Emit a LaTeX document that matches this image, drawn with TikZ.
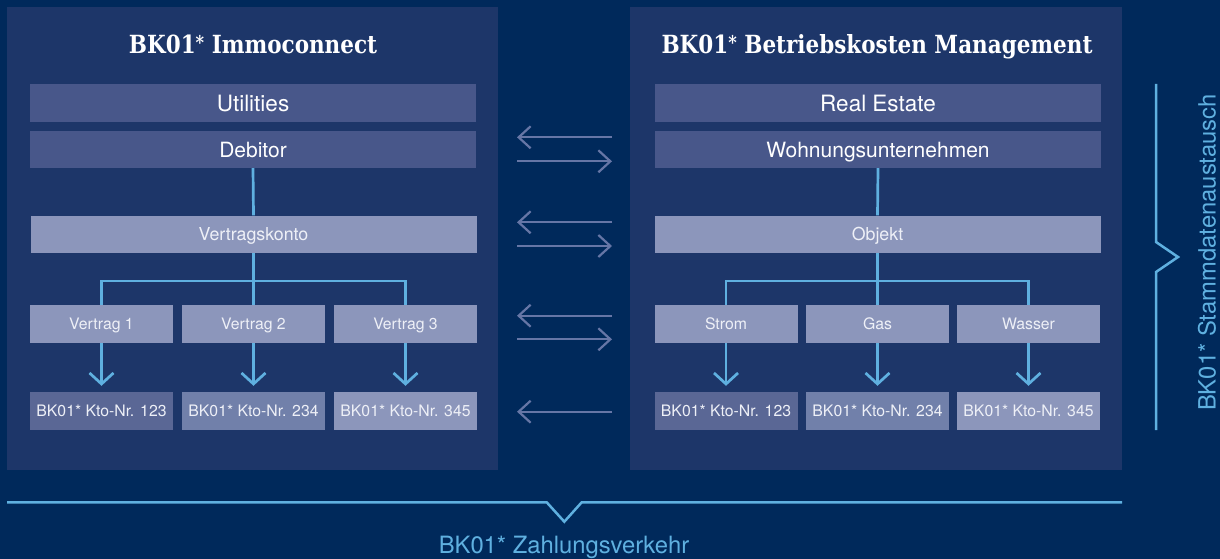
\documentclass[tikz,border=0pt]{standalone}
\usepackage{fontspec}
\usetikzlibrary{arrows.meta}
\newfontfamily\hel{TeX Gyre Heros}
\newfontfamily\slab{DejaVu Serif}[FakeStretch=0.86]
\newcommand{\tast}{{\fontsize{19}{19}\selectfont\raisebox{4.5pt}{*}}}
\definecolor{bgc}{HTML}{00295B}
\definecolor{panelc}{HTML}{1D3669}
\definecolor{darkbox}{HTML}{48578A}
\definecolor{lightbox}{HTML}{8C96BB}
\definecolor{kto1}{HTML}{5A6795}
\definecolor{kto2}{HTML}{7180AA}
\definecolor{linec}{HTML}{5FB0E0}
\definecolor{midc}{HTML}{6676A6}
\definecolor{boxtext}{HTML}{EEF0F7}
\tikzset{
  panel/.style={fill=panelc, draw=none, inner sep=0pt, minimum width=#1, minimum height=463pt},
  title/.style={text=white, font=\slab\bfseries\fontsize{25}{25}\selectfont, inner sep=0pt, text height=18.2pt, text depth=0pt},
  topbox/.style={text height=16.2pt, text depth=0pt, fill=darkbox, inner sep=0pt, minimum width=446pt, minimum height=38pt, text=white, font=\hel\fontsize{22.5}{22.5}\selectfont},
  subbox/.style={text height=15.1pt, text depth=0pt, fill=darkbox, inner sep=0pt, minimum width=446pt, minimum height=37pt, text=white, font=\hel\fontsize{21}{21}\selectfont},
  midbox/.style={text height=12.8pt, text depth=0pt, fill=lightbox, inner sep=0pt, minimum width=446pt, minimum height=37pt, text=boxtext, font=\hel\fontsize{17.8}{17.8}\selectfont},
  smallbox/.style={text height=11.3pt, text depth=0pt, fill=#1, inner sep=0pt, minimum width=143pt, minimum height=38pt, text=boxtext, font=\hel\fontsize{15.8}{15.8}\selectfont},
  tree/.style={draw=linec, line width=2.7pt},
  treearrow/.style={tree, -{Straight Barb[length=11pt, width=24pt]}, shorten >=6pt},
  midarrow/.style={draw=midc, line width=2.2pt, -{Straight Barb[length=12pt, width=22pt]}},
  bracket/.style={draw=linec, line width=2.5pt},
  bracketlabel/.style={text=linec, font=\hel\fontsize{23.8}{23.8}\selectfont, inner sep=0pt}
}
\begin{document}
\begin{tikzpicture}[x=1pt, y=-1pt]
\useasboundingbox[fill=bgc] (0,0) rectangle (1220,559);

% panels
\node[panel=491pt, anchor=north west] (lp) at (7,7) {};
\node[panel=492pt, anchor=north west] (rp) at (630,7) {};

% titles
\node[title] (lt) at (253,44.5) {BK01\tast{} Immoconnect};
\node[title] (rt) at (877,44.5) {BK01\tast{} Betriebskosten Management};

% left boxes
\node[topbox] (util) at (253,103) {Utilities};
\node[subbox] (deb) at (253,149.5) {Debitor};
\node[midbox] (vk) at (253.5,234) {Vertragskonto};
\node[smallbox=lightbox] (v1) at (101.5,324) {Vertrag 1};
\node[smallbox=lightbox] (v2) at (253.5,324) {Vertrag 2};
\node[smallbox=lightbox] (v3) at (405.5,324) {Vertrag 3};
\node[smallbox=kto1] (k1) at (101.5,411) {BK01* Kto-Nr. 123};
\node[smallbox=kto2] (k2) at (253.5,411) {BK01* Kto-Nr. 234};
\node[smallbox=lightbox] (k3) at (405.5,411) {BK01* Kto-Nr. 345};

% right boxes
\node[topbox] (re) at (878,103) {Real Estate};
\node[subbox] (wu) at (878,149.5) {Wohnungsunternehmen};
\node[midbox] (obj) at (877.5,234) {Objekt};
\node[smallbox=lightbox] (s1) at (726,324) {Strom};
\node[smallbox=lightbox] (s2) at (877.5,324) {Gas};
\node[smallbox=lightbox] (s3) at (1028.5,324) {Wasser};
\node[smallbox=kto1] (r1) at (726,411) {BK01* Kto-Nr. 123};
\node[smallbox=kto2] (r2) at (877.5,411) {BK01* Kto-Nr. 234};
\node[smallbox=lightbox] (r3) at (1028.5,411) {BK01* Kto-Nr. 345};

% left tree
\coordinate (jl) at (253.5,281);
\draw[tree] (deb.south) -- (vk.north);
\draw[tree] (vk.south) -- (jl);
\draw[tree] (v1.north) |- (jl) -| (v3.north);
\draw[tree] (jl) -- (v2.north);
\draw[treearrow] (v1.south) -- (k1.north);
\draw[treearrow] (v2.south) -- (k2.north);
\draw[treearrow] (v3.south) -- (k3.north);

% right tree
\coordinate (jr) at (877.5,281);
\draw[tree] (wu.south) -- (obj.north);
\draw[tree] (obj.south) -- (jr);
\draw[tree] (s1.north) |- (jr) -| (s3.north);
\draw[tree] (jr) -- (s2.north);
\draw[treearrow] (s1.south) -- (r1.north);
\draw[treearrow] (s2.south) -- (r2.north);
\draw[treearrow] (s3.south) -- (r3.north);

% middle arrows
\foreach \n/\y in {a/137.3, b/222.3, c/315.7, d/411.7}{
  \coordinate (L\n) at (517,\y);
  \coordinate (R\n) at (612,\y);
}
\foreach \n/\y in {a/161.3, b/246, c/339.3}{
  \coordinate (LL\n) at (517,\y);
  \coordinate (RR\n) at (612,\y);
}
\draw[midarrow] (Ra) -- (La);
\draw[midarrow] (LLa) -- (RRa);
\draw[midarrow] (Rb) -- (Lb);
\draw[midarrow] (LLb) -- (RRb);
\draw[midarrow] (Rc) -- (Lc);
\draw[midarrow] (LLc) -- (RRc);
\draw[midarrow] (Rd) -- (Ld);

% right bracket
\coordinate (rbt) at (1156,84);
\coordinate (rbb) at (1156,430);
\coordinate (rbap) at (1178,257);
\draw[bracket] (rbt) -- (1156,242) -- (rbap) -- (1156,272) -- (rbb);
\node[bracketlabel, rotate=90] (stamm) at (1207,252.5) {BK01* Stammdatenaustausch};

% bottom bracket
\coordinate (bbl) at (7,502.3);
\coordinate (bbr) at (1122,502.3);
\coordinate (bbap) at (564.3,521.7);
\draw[bracket] (bbl) -- (546.7,502.3) -- (bbap) -- (581.7,502.3) -- (bbr);
\node[bracketlabel, anchor=base] (zahl) at (564,553) {BK01* Zahlungsverkehr};
\end{tikzpicture}
\end{document}
